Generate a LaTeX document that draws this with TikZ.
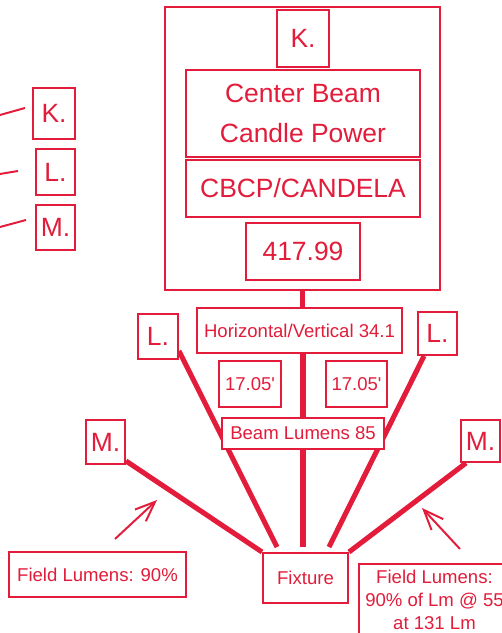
\documentclass[tikz,border=0pt]{standalone}
\usepackage{fontspec}
\setmainfont{Liberation Sans}
\usepackage{xcolor}
\definecolor{lmred}{RGB}{226,28,58}
\usepackage{tikz}
\usetikzlibrary{arrows.meta, backgrounds}

\newcommand{\bigtxt}{\fontsize{18.8}{28.5}\selectfont}
\newcommand{\smtxt}{\fontsize{13.2}{16.4}\selectfont}

\tikzset{
  lbox/.style={draw=lmred, line width=1.4pt, fill=white, text=lmred, inner sep=0pt, align=center},
  spoke/.style={draw=lmred, line width=3.6pt},
  pointer/.style={draw=lmred, line width=1.4pt, -{Straight Barb[length=5mm, width=4mm]}},
  stub/.style={draw=lmred, line width=1.4pt}
}

\begin{document}
\begin{tikzpicture}
  \useasboundingbox (0,0) rectangle (12.525,15.825);

  % --- Top: CBCP panel ---
  \node[lbox, fill=none, minimum width=6.875cm, minimum height=7.075cm] (panel) at (7.5625,12.1125) {};
  \node[lbox, font=\bigtxt, minimum width=1.3cm, minimum height=1.425cm] (ktop) at (7.575,14.8625) {K.};
  \node[lbox, font=\bigtxt, minimum width=5.85cm, minimum height=2.175cm] (cbtitle) at (7.575,12.9875) {Center Beam\\Candle Power};
  \node[lbox, font=\bigtxt, minimum width=5.85cm, minimum height=1.425cm] (cbunit) at (7.575,11.1125) {CBCP/CANDELA};
  \node[lbox, font=\bigtxt, minimum width=2.85cm, minimum height=1.425cm] (cbval) at (7.575,9.5375) {417.99};

  % --- Left: key boxes ---
  \node[lbox, font=\bigtxt, minimum width=1.05cm, minimum height=1.275cm] (kleft) at (1.35,12.9875) {K.};
  \node[lbox, font=\bigtxt, minimum width=0.975cm, minimum height=1.15cm] (lkey) at (1.3875,11.525) {L.};
  \node[lbox, font=\bigtxt, minimum width=0.975cm, minimum height=1.125cm] (mkey) at (1.3875,10.1375) {M.};
  \coordinate (kstub) at (0,12.95);
  \coordinate (lstub) at (0,11.475);
  \coordinate (mstub) at (0,10.15);
  \draw[stub] (kstub) -- (0.625,13.125);
  \draw[stub] (lstub) -- (0.45,11.55);
  \draw[stub] (mstub) -- (0.65,10.325);

  % --- Middle: beam spread ---
  \node[lbox, font=\smtxt, minimum width=5.125cm, minimum height=1.125cm] (hv) at (7.4875,7.5625) {Horizontal/Vertical 34.1};
  \node[lbox, font=\smtxt, minimum width=1.55cm, minimum height=1.15cm] (halfl) at (6.25,6.225) {17.05\textquotesingle};
  \node[lbox, font=\smtxt, minimum width=1.525cm, minimum height=1.15cm] (halfr) at (8.9125,6.225) {17.05\textquotesingle};
  \node[lbox, font=\smtxt, minimum width=4.05cm, minimum height=0.775cm] (beam) at (7.575,4.9875) {Beam Lumens 85};

  \node[lbox, font=\bigtxt, minimum width=1.0cm, minimum height=1.125cm] (lleft) at (3.95,7.4125) {L.};
  \node[lbox, font=\bigtxt, minimum width=0.975cm, minimum height=1.075cm] (lright) at (10.9375,7.4875) {L.};
  \node[lbox, font=\bigtxt, minimum width=0.975cm, minimum height=1.1cm] (mleft) at (2.6375,4.775) {M.};
  \node[lbox, font=\bigtxt, minimum width=0.975cm, minimum height=1.05cm] (mright) at (12.0125,4.8) {M.};

  % --- Bottom: fixture and field ---
  \node[lbox, font=\smtxt, minimum width=2.125cm, minimum height=1.25cm] (fix) at (7.6375,1.375) {Fixture};
  \node[lbox, font=\smtxt, minimum width=4.425cm, minimum height=1.125cm] (fieldl) at (2.4375,1.4625) {Field Lumens: 90\%};
  \node[lbox, font=\smtxt, anchor=north, minimum width=3.775cm, inner ysep=0.14cm, text depth=0.4cm] (fieldr) at (10.8625,1.75) {Field Lumens:\\90\% of Lm @ 55\\at 131 Lm};

  % spokes
  \begin{scope}[on background layer]
    \draw[spoke] (panel.south) -- (panel.south |- hv.north);
    \draw[spoke] (beam.north |- hv.south) -- (beam.north);
    \draw[spoke] (beam.south) -- ([yshift=0.125cm]beam.south |- fix.north);
    \draw[spoke] ([yshift=0.225cm]lleft.south east) -- ([shift={(0.375,0.125)}]fix.north west);
    \draw[spoke] ([xshift=0.175cm]lright.south west) -- ([shift={(-0.5,0.125)}]fix.north east);
    \draw[spoke] ([yshift=0.1cm]mleft.south east) -- (fix.north west);
    \draw[spoke] ([xshift=0.15cm]mright.south west) -- (fix.north east);
  \end{scope}

  % pointers
  \coordinate (fla) at (2.875,2.35);
  \coordinate (flb) at (3.925,3.325);
  \coordinate (fra) at (11.5,2.1);
  \coordinate (frb) at (10.55,3.125);
  \draw[pointer] (fla) -- (flb);
  \draw[pointer] (fra) -- (frb);
\end{tikzpicture}
\end{document}
